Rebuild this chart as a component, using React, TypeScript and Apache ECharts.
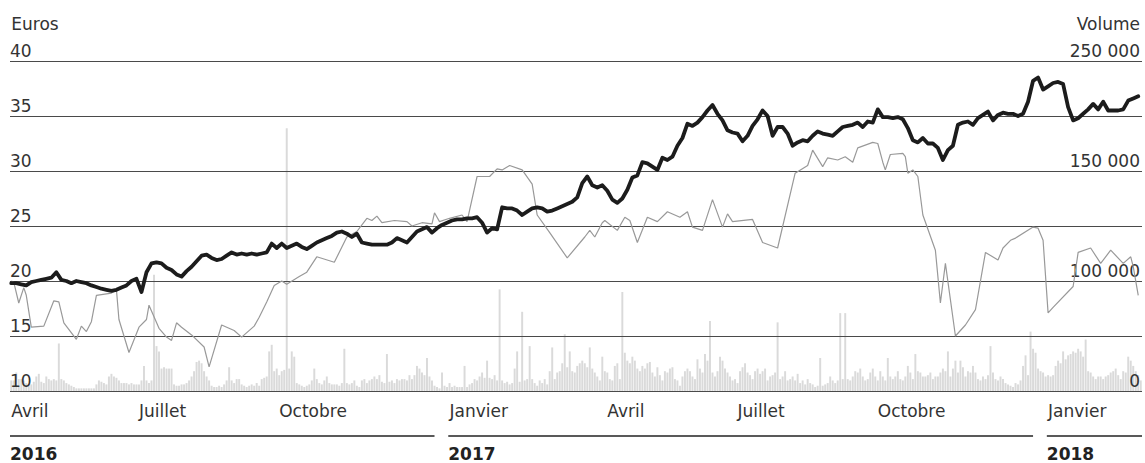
import React, { useEffect, useRef } from "react";
import * as echarts from "echarts";

const FONT = '"DejaVu Sans", sans-serif';

// Trading days on the x axis (daily volume bars)
const DAY_COUNT = 452;
const monthNames = ["Avril", "Juillet", "Octobre", "Janvier", "Avril", "Juillet", "Octobre", "Janvier"];
const monthStartDay = [0, 51, 107, 175, 238, 290, 346, 414];
const yearNames = ["2016", "2017", "2018"];
const yearStartDay = [0, 175, 414];

// Share price in euros, one reading every 2 trading days
const PRICE_STEP = 2;
const price = [
  19.8, 19.8, 19.7, 19.6, 19.9, 20.0, 20.1, 20.2, 20.3, 20.8,
  20.1, 20.0, 19.8, 20.0, 19.9, 19.8, 19.6, 19.45, 19.3, 19.2,
  19.1, 19.2, 19.4, 19.6, 20.0, 20.2, 19.0, 20.8, 21.6, 21.7,
  21.6, 21.2, 21.0, 20.6, 20.4, 20.9, 21.3, 21.8, 22.3, 22.4,
  22.1, 21.9, 22.0, 22.3, 22.6, 22.4, 22.5, 22.4, 22.5, 22.4,
  22.5, 22.6, 23.4, 23.0, 23.4, 23.0, 23.2, 23.4, 23.1, 22.9,
  23.2, 23.5, 23.7, 23.9, 24.1, 24.4, 24.5, 24.3, 24.0, 24.3,
  23.5, 23.4, 23.3, 23.3, 23.3, 23.3, 23.5, 23.9, 23.7, 23.5,
  24.0, 24.5, 24.7, 24.9, 24.4, 24.8, 25.1, 25.3, 25.5, 25.6,
  25.6, 25.7, 25.7, 25.8, 25.3, 24.4, 24.8, 24.7, 26.7, 26.6,
  26.6, 26.4, 26.0, 26.3, 26.6, 26.7, 26.6, 26.3, 26.4, 26.6,
  26.8, 27.0, 27.2, 27.6, 28.9, 29.5, 28.7, 28.5, 28.7, 28.2,
  27.4, 27.1, 27.5, 28.3, 29.4, 29.6, 30.8, 30.7, 30.4, 30.1,
  31.2, 31.0, 31.3, 32.3, 33.0, 34.3, 34.1, 34.4, 34.9, 35.5,
  36.0, 35.2, 34.6, 33.7, 33.5, 33.4, 32.7, 33.2, 34.1, 34.7,
  35.5, 35.0, 33.2, 34.0, 34.0, 33.4, 32.3, 32.6, 32.8, 32.7,
  33.2, 33.6, 33.4, 33.3, 33.2, 33.6, 34.0, 34.1, 34.2, 34.4,
  34.0, 34.5, 34.4, 35.6, 34.9, 34.9, 34.8, 34.9, 34.7, 33.9,
  32.8, 32.6, 33.0, 32.5, 32.5, 32.1, 31.0, 31.9, 32.3, 34.2,
  34.4, 34.5, 34.2, 34.8, 35.1, 35.4, 34.6, 35.1, 35.3, 35.2,
  35.2, 35.0, 35.2, 36.3, 38.2, 38.5, 37.4, 37.7, 38.0, 38.1,
  37.9, 35.8, 34.6, 34.8, 35.2, 35.6, 36.1, 35.6, 36.3, 35.5,
  35.5, 35.5, 35.6, 36.4, 36.6, 36.8,
];

// Average volume (thousands of shares), sampled on these trading days
const avgDays = [
  0, 1, 3, 5, 6, 8, 13, 17, 19, 21,
  26, 28, 30, 32, 34, 40, 42, 43, 47, 51,
  54, 55, 59, 62, 64, 66, 68, 72, 77, 79,
  84, 89, 92, 97, 99, 102, 105, 108, 110, 115,
  118, 122, 129, 134, 138, 142, 144, 146, 148, 153,
  158, 160, 164, 168, 169, 171, 175, 180, 182, 186,
  191, 194, 196, 199, 204, 208, 210, 215, 222, 229,
  231, 233, 236, 237, 242, 245, 247, 250, 254, 258,
  262, 267, 270, 272, 276, 280, 284, 286, 288, 296,
  300, 306, 313, 318, 320, 324, 326, 330, 333, 336,
  338, 344, 346, 348, 349, 351, 356, 357, 358, 360,
  362, 364, 369, 371, 373, 377, 381, 385, 389, 394,
  396, 399, 401, 408, 410, 412, 414, 416, 424, 426,
  431, 435, 439, 444, 447, 448, 450,
];
const avgVolume = [
  100, 99.5, 90, 97, 93.5, 79, 79.5, 91, 90.5, 81,
  73.5, 79.5, 77, 81.5, 93.5, 94.5, 96, 82.5, 67.5, 79,
  82.5, 89, 78.5, 74.5, 73, 81, 79, 75.5, 70, 61,
  80, 77.5, 74.5, 79.5, 83.5, 90.5, 98, 100, 98.5, 102,
  104, 111, 108.5, 120, 122.5, 128.5, 127.5, 129.5, 126.5, 127.5,
  127, 125, 126.5, 126, 131, 127, 128.5, 130, 127, 147.5,
  147.5, 151, 150.5, 152.5, 150.5, 144, 130, 122, 110.5, 120,
  123, 120, 126.5, 127.5, 123, 129, 127.5, 117.5, 129, 127,
  131.5, 129, 131.5, 124.5, 123, 137, 124.5, 130.5, 127, 128,
  117.5, 115, 149, 152.5, 159.5, 152, 156, 155, 156.5, 154,
  160.5, 163, 162.5, 154, 150.5, 157.5, 158, 156.5, 149, 150.5,
  147.5, 130, 114, 90, 108, 75, 80, 87, 113, 109.5,
  115, 118.5, 119.5, 124.5, 124, 118.5, 85.5, 88, 97.5, 113,
  115, 108, 114, 108, 111, 106.5, 93.5,
];

// Daily volume (thousands of shares)
const volume = [
  8, 8, 14, 9, 9, 8, 6, 5, 5, 7,
  11, 13, 7, 6, 11, 9, 8, 9, 8, 36,
  9, 8, 6, 5, 4, 3, 2, 2, 2, 2,
  2, 2, 2, 2, 5, 8, 7, 6, 5, 11,
  13, 11, 10, 8, 6, 6, 6, 5, 6, 5,
  5, 5, 8, 19, 8, 6, 8, 88, 34, 30,
  17, 18, 17, 17, 17, 5, 4, 4, 5, 5,
  6, 8, 11, 15, 22, 23, 21, 15, 11, 8,
  4, 3, 3, 4, 3, 5, 8, 18, 8, 6,
  9, 9, 5, 4, 3, 4, 5, 4, 6, 4,
  9, 10, 11, 30, 35, 15, 17, 12, 15, 16,
  199, 17, 30, 26, 6, 5, 4, 3, 4, 5,
  8, 17, 9, 6, 5, 8, 11, 6, 5, 5,
  5, 4, 6, 32, 6, 5, 6, 8, 4, 3,
  8, 9, 6, 8, 9, 11, 9, 12, 7, 6,
  28, 7, 8, 6, 9, 8, 9, 9, 8, 12,
  9, 12, 19, 17, 14, 12, 25, 11, 8, 4,
  3, 2, 14, 4, 3, 6, 3, 4, 3, 3,
  3, 19, 3, 5, 6, 9, 8, 11, 14, 10,
  23, 10, 9, 12, 8, 77, 8, 6, 7, 5,
  6, 17, 30, 7, 60, 8, 9, 34, 9, 6,
  4, 8, 6, 9, 5, 15, 33, 9, 14, 15,
  21, 43, 18, 30, 15, 14, 19, 21, 23, 21,
  18, 33, 17, 14, 11, 8, 26, 15, 14, 9,
  8, 19, 21, 9, 75, 29, 23, 21, 26, 23,
  17, 15, 19, 17, 21, 22, 14, 11, 18, 12,
  8, 15, 14, 17, 18, 9, 8, 4, 11, 15,
  17, 15, 11, 9, 24, 17, 14, 28, 23, 53,
  14, 11, 15, 26, 23, 17, 14, 11, 8, 9,
  6, 15, 18, 21, 14, 12, 9, 15, 17, 13,
  15, 17, 8, 11, 12, 14, 52, 9, 11, 15,
  8, 9, 11, 8, 13, 6, 8, 5, 9, 6,
  5, 3, 4, 25, 4, 5, 6, 11, 8, 6,
  8, 59, 9, 59, 9, 8, 11, 15, 14, 17,
  11, 8, 9, 14, 17, 11, 8, 15, 11, 8,
  25, 11, 9, 11, 15, 9, 8, 11, 19, 14,
  9, 28, 15, 14, 11, 11, 12, 14, 9, 11,
  11, 14, 17, 15, 30, 11, 17, 23, 14, 23,
  18, 11, 15, 14, 19, 14, 9, 8, 11, 9,
  12, 34, 14, 9, 8, 11, 9, 6, 5, 4,
  3, 6, 5, 8, 19, 27, 12, 45, 32, 29,
  17, 15, 14, 11, 12, 11, 12, 19, 23, 21,
  30, 24, 27, 28, 30, 29, 32, 30, 26, 39,
  15, 14, 11, 9, 11, 11, 9, 11, 12, 14,
  15, 17, 12, 9, 15, 14, 26, 23, 19, 15, 12, 8,
];

// Euro axis ticks
const euroMin = 10;
const euroMax = 40;
const euroStep = 5;

export default function App() {
  const ref = useRef<HTMLDivElement>(null);

  useEffect(() => {
    if (!ref.current) return;
    const chart = echarts.init(ref.current, null, { renderer: "svg" });

    const dayCategories = Array.from({ length: DAY_COUNT }, (_, i) => String(i));
    const pricePoints = price.map((p, k) => [k * PRICE_STEP, p]);
    const avgPoints = avgDays.map((d, i) => [d, avgVolume[i]]);

    const labelStyle = { color: "#333", fontSize: 17, fontFamily: FONT };

    chart.setOption({
      animation: false,
      textStyle: { fontFamily: FONT },
      grid: { left: 10, right: 3, top: 61, bottom: 72, containLabel: false },
      xAxis: [
        {
          type: "category",
          data: dayCategories,
          boundaryGap: true,
          axisLine: { show: false },
          axisTick: { show: false },
          splitLine: { show: false },
          axisLabel: {
            ...labelStyle,
            interval: 0,
            align: "left",
            margin: 11,
            formatter: (_v: string, idx: number) => {
              const j = monthStartDay.indexOf(idx);
              return j >= 0 ? monthNames[j] : "";
            },
          },
        },
        { type: "value", min: -0.5, max: DAY_COUNT - 0.5, show: false },
      ],
      yAxis: [
        {
          type: "value",
          z: 5,
          min: euroMin,
          max: euroMax,
          interval: euroStep,
          position: "left",
          name: "Euros",
          nameLocation: "end",
          nameGap: 29,
          nameTextStyle: { ...labelStyle, align: "left", verticalAlign: "bottom" },
          axisLine: { show: false },
          axisTick: { show: false },
          axisLabel: { ...labelStyle, inside: true, margin: 0, verticalAlign: "bottom", padding: [0, 0, 2, 0] },
          splitLine: { show: true, lineStyle: { color: "#4a4a4a", width: 1 } },
        },
        {
          type: "value",
          z: 5,
          min: 0,
          max: 250,
          interval: 250,
          position: "right",
          name: "Volume",
          nameLocation: "end",
          nameGap: 29,
          nameTextStyle: { ...labelStyle, align: "right", verticalAlign: "bottom", padding: [0, 2, 0, 0] },
          axisLine: { show: false },
          axisTick: { show: false },
          splitLine: { show: false },
          axisLabel: {
            ...labelStyle,
            inside: true,
            margin: 2,
            verticalAlign: "bottom",
            padding: [0, 0, 2, 0],
            formatter: (v: number) => (v === 0 ? "0" : "250 000"),
          },
        },
        {
          type: "value",
          z: 5,
          min: 50,
          max: 200,
          interval: 25,
          position: "right",
          axisLine: { show: false },
          axisTick: { show: false },
          splitLine: { show: false },
          axisLabel: {
            ...labelStyle,
            inside: true,
            margin: 2,
            verticalAlign: "bottom",
            padding: [0, 0, 2, 0],
            formatter: (v: number) => (v === 100 ? "100 000" : v === 150 ? "150 000" : ""),
          },
        },
      ],
      series: [
        {
          type: "bar",
          xAxisIndex: 0,
          yAxisIndex: 1,
          z: 1,
          data: volume,
          barWidth: "78%",
          itemStyle: { color: "#dadada" },
          silent: true,
        },
        {
          type: "line",
          xAxisIndex: 1,
          yAxisIndex: 2,
          z: 8,
          data: avgPoints,
          symbol: "none",
          lineStyle: { color: "#999", width: 1.2 },
          silent: true,
        },
        {
          type: "line",
          xAxisIndex: 1,
          yAxisIndex: 0,
          z: 9,
          data: pricePoints,
          symbol: "none",
          lineStyle: { color: "#1c1c1c", width: 3.8, join: "round", cap: "round" },
          silent: true,
        },
      ],
    });

    const px = (d: number) => chart.convertToPixel({ xAxisIndex: 1 } as any, d) as number;
    const graphics: any[] = [];
    yearNames.forEach((name, i) => {
      const x1 = px(yearStartDay[i] - 0.5);
      const x2 = i < yearNames.length - 1 ? px(yearStartDay[i + 1] - 6) : px(DAY_COUNT - 0.5);
      graphics.push({
        type: "line",
        shape: { x1, y1: 436, x2, y2: 436 },
        style: { stroke: "#222", lineWidth: 1.5 },
        silent: true,
      });
      graphics.push({
        type: "text",
        x: x1,
        y: 445,
        style: {
          text: name,
          fill: "#222",
          fontSize: 17,
          fontWeight: "bold",
          fontFamily: FONT,
          verticalAlign: "top",
          align: "left",
        },
        silent: true,
      });
    });
    chart.setOption({ graphic: graphics });

    return () => chart.dispose();
  }, []);

  return (
    <div
      ref={ref}
      style={{ position: "absolute", left: 0, top: 0, width: 1145, height: 463 }}
    />
  );
}
